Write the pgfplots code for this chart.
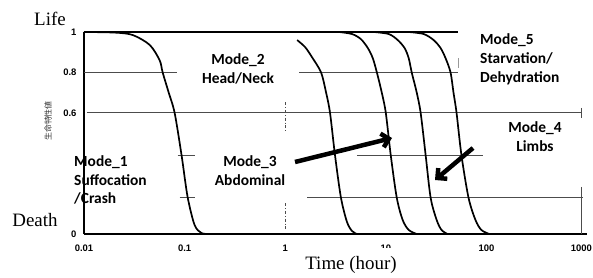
\documentclass[border=0pt]{standalone}
\usepackage{fontspec}
\setmainfont{Liberation Serif}
\newfontfamily\tickf{Liberation Sans}
\newfontfamily\modef{Carlito}
\newfontfamily\cjk{Noto Sans CJK JP}
\usepackage{pgfplots}
\pgfplotsset{compat=1.18}
\usetikzlibrary{arrows.meta}

\begin{document}
\begin{tikzpicture}
\path[use as bounding box] (-84bp,-44bp) rectangle (509bp,234bp);
\begin{axis}[at={(0,0)}, anchor=south west, scale only axis,
  width=503bp, height=202bp,
  xmode=log, xmin=0.01, xmax=1000, ymin=0, ymax=1,
  axis x line=bottom, axis y line=left,
  x axis line style={-, line width=2bp, black},
  y axis line style={-, line width=1.3bp, black},
  xtick={0.01,0.1,1,10,100,1000}, xticklabels={0.01,0.1,1,10,100,{}},
  ytick={0,0.6,0.8,1}, yticklabels={0,0.6,0.8,1},
  minor xtick={}, major tick length=0, minor tick length=0,
  tick label style={font=\tickf\bfseries\fontsize{9.5}{9.5}\selectfont},
  xticklabel style={anchor=center, yshift=-14bp},
  yticklabel style={anchor=east, xshift=-4bp},
  /pgf/number format/assume math mode=true,
  clip=false,
  grd/.style={black!70, line width=0.8bp},
  crv/.style={black, line width=1.7bp, smooth, tension=0.5}]
% partial grid segments
\addplot[grd] coordinates {(0.01,0.8) (0.0834,0.8)};
\addplot[grd] coordinates {(1.377,0.8) (52.8,0.8)};
\addplot[grd] coordinates {(0.0107,0.6) (873,0.6)};
\addplot[grd] coordinates {(0.0853,0.39) (0.1256,0.39)};
\addplot[grd] coordinates {(5.16,0.39) (93.3,0.39)};
\addplot[grd] coordinates {(0.0893,0.183) (0.1256,0.183)};
\addplot[grd] coordinates {(1.65,0.183) (912,0.183)};
\addplot[grd, dash dot] coordinates {(1,0.653) (1,0.5)};
\addplot[grd, dash dot] coordinates {(1,0.153) (1,0.02)};
\addplot[grd] coordinates {(873,0.624) (873,0.574)};
\addplot[grd] coordinates {(873,0.233) (873,0)};
\addplot[black!40, line width=0.6bp] coordinates {(52.8,0.87) (52.8,0.82)};
% top line
\addplot[black, line width=1.7bp] coordinates {(0.01,1) (52.8,1)};
% curves
\addplot[crv] coordinates {(0.01,1) (0.0203,0.997) (0.0305,0.985) (0.045,0.936) (0.0565,0.86) (0.0605,0.8) (0.0695,0.7) (0.0796,0.6) (0.0933,0.39) (0.107,0.185) (0.1256,0.045) (0.147,0.005) (0.177,0)};
\addplot[crv] coordinates {(1.315,0.96) (1.578,0.925) (1.849,0.875) (2.271,0.8) (2.55,0.7) (2.79,0.6) (3.127,0.39) (3.583,0.18) (4.11,0.06) (4.61,0.015) (5.16,0)};
\addplot[crv] coordinates {(3.43,1) (4.61,0.99) (5.65,0.965) (6.64,0.92) (7.43,0.87) (8.15,0.8) (9.12,0.7) (10.0,0.6) (11.2,0.39) (12.85,0.18) (14.7,0.07) (16.9,0.02) (20.3,0)};
\addplot[crv] coordinates {(7.6,1) (10.7,0.99) (13.15,0.96) (15.4,0.92) (16.9,0.87) (18.1,0.8) (20.3,0.7) (22.2,0.6) (24.9,0.39) (27.9,0.18) (32.0,0.07) (35.8,0.02) (41.1,0)};
\addplot[crv] coordinates {(16.9,1) (23.8,0.99) (29.9,0.96) (35.1,0.92) (39.3,0.87) (44.0,0.8) (47.1,0.7) (50.5,0.6) (56.5,0.39) (66.4,0.18) (77.8,0.07) (89.1,0.02) (107,0)};
\end{axis}
% last x tick label, kept inside the picture
\node[font=\tickf\bfseries\fontsize{9.5}{9.5}\selectfont, anchor=east, inner sep=0pt] at (508bp,-14bp) {1000};
% annotations
\begin{scope}[every node/.style={font=\modef\bfseries\fontsize{15.5}{19}\selectfont, inner sep=0pt}]
\node[align=center] at (154bp,165.5bp) {Mode\_2\\Head/Neck};
\node[align=left, anchor=west] at (396bp,175bp) {Mode\_5\\Starvation/\\Dehydration};
\node[align=center] at (451bp,97.5bp) {Mode\_4\\Limbs};
\node[align=center] at (166bp,63.5bp) {Mode\_3\\Abdominal};
\node[align=left, anchor=west] at (-10bp,54bp) {Mode\_1\\Suffocation\\/Crash};
\end{scope}
\draw[line width=4.5bp, -{Straight Barb[length=7bp, width=14bp]}] (211bp,72bp) -- (308bp,96bp);
\draw[line width=4.5bp, -{Straight Barb[length=7bp, width=14bp]}] (389bp,86bp) -- (351bp,54bp);
\node[font=\fontsize{19}{19}\selectfont, inner sep=0pt] at (-34bp,215bp) {Life};
\node[font=\fontsize{19}{19}\selectfont, inner sep=0pt] at (-49bp,14bp) {Death};
\node[font=\fontsize{19}{19}\selectfont, fill=white, inner xsep=2bp, inner ysep=8bp] at (267bp,-31bp) {Time (hour)};
\node[rotate=90, font=\cjk\fontsize{8}{8}\selectfont, text=black!80, inner sep=0pt] at (-36bp,113bp) {生命特性値};
\end{tikzpicture}
\end{document}
